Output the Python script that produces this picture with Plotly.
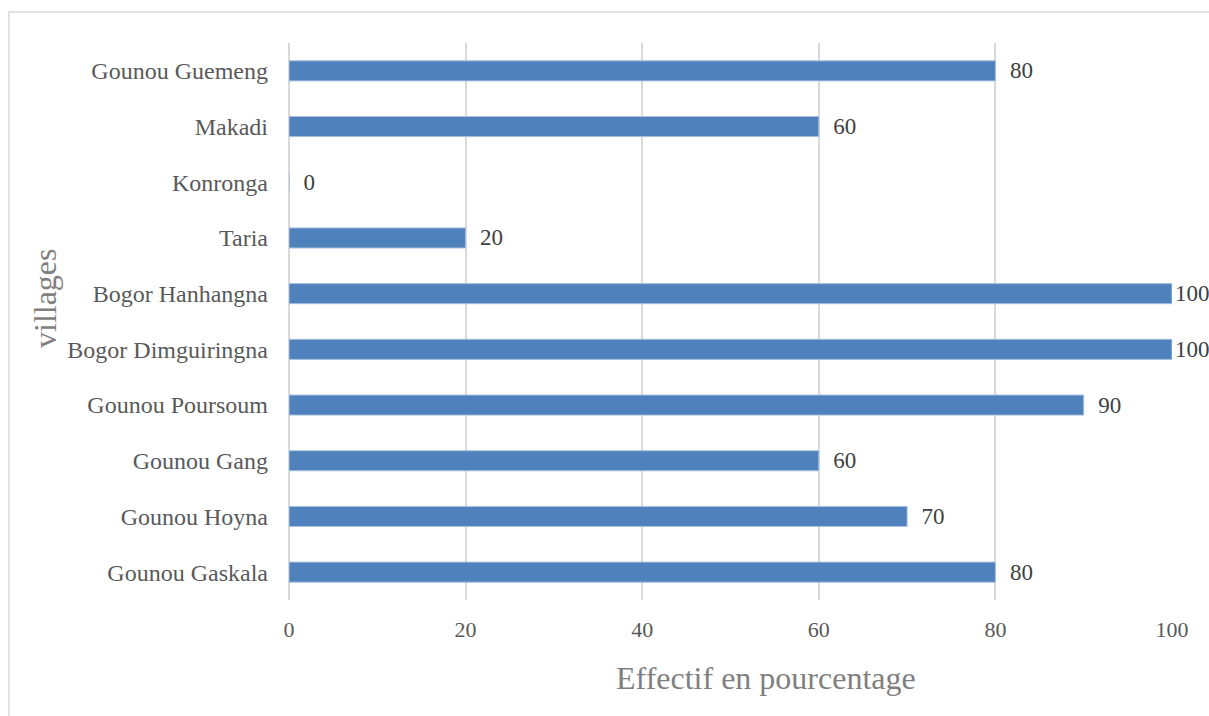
import plotly.graph_objects as go

villages = ["Gounou Gaskala", "Gounou Hoyna", "Gounou Gang", "Gounou Poursoum",
            "Bogor Dimguiringna", "Bogor Hanhangna", "Taria", "Konronga",
            "Makadi", "Gounou Guemeng"]
effectif = [80, 70, 60, 90, 100, 100, 20, 0, 60, 80]
x_ticks = [0, 20, 40, 60, 80, 100]

W, H = 1209, 716
L, R, T, B = 289, 37, 43, 116
pw, ph = W - L - R, H - T - B

FONT = "Liberation Serif, Times New Roman, serif"
GREY = "#595959"

# labels at the axis maximum sit tight against the bar end so they stay on the page
labels = [str(v) if v >= x_ticks[-1] else "\u2002" + str(v) for v in effectif]

fig = go.Figure(go.Bar(
    x=effectif, y=villages, orientation="h",
    marker=dict(color="#4F81BD", line=dict(color="#A7C0DE", width=1)),
    text=labels, textposition="outside",
    constraintext="none",
    textfont=dict(family=FONT, size=23, color="#404040"),
    cliponaxis=False, width=0.36,
))

fig.update_layout(
    width=W, height=H,
    margin=dict(l=L, r=R, t=T, b=B),
    paper_bgcolor="white", plot_bgcolor="white",
    font=dict(family=FONT, size=22, color=GREY),
    showlegend=False,
    xaxis=dict(range=[0, 100], tickvals=x_ticks, showgrid=True,
               gridcolor="#D9D9D9", gridwidth=1.5, zeroline=True,
               zerolinecolor="#D9D9D9", zerolinewidth=1.5, showline=False,
               ticklabelstandoff=14, tickfont=dict(size=22, color=GREY)),
    yaxis=dict(categoryorder="array", categoryarray=villages,
               showgrid=False, zeroline=False, showline=False,
               ticklabelstandoff=20, tickfont=dict(size=24, color=GREY)),
    shapes=[dict(type="rect", xref="paper", yref="paper",
                 x0=(9 - L) / pw, x1=(W + 20 - L) / pw,
                 y0=-(H + 20 - T - ph) / ph, y1=(T + ph - 12) / ph,
                 line=dict(color="#D9D9D9", width=1.5), fillcolor="rgba(0,0,0,0)",
                 layer="below")],
    annotations=[
        dict(text="Effectif en pourcentage", xref="paper", yref="paper",
             x=(766 - L) / pw, y=-(678 - T - ph) / ph, showarrow=False,
             xanchor="center", yanchor="middle",
             font=dict(family=FONT, size=32, color="#7F7F7F")),
        dict(text="villages", xref="paper", yref="paper",
             x=(45 - L) / pw, y=(T + ph - 298) / ph, showarrow=False,
             textangle=-90, xanchor="center", yanchor="middle",
             font=dict(family=FONT, size=32, color="#7F7F7F")),
    ],
)

fig.write_html("out.html")
